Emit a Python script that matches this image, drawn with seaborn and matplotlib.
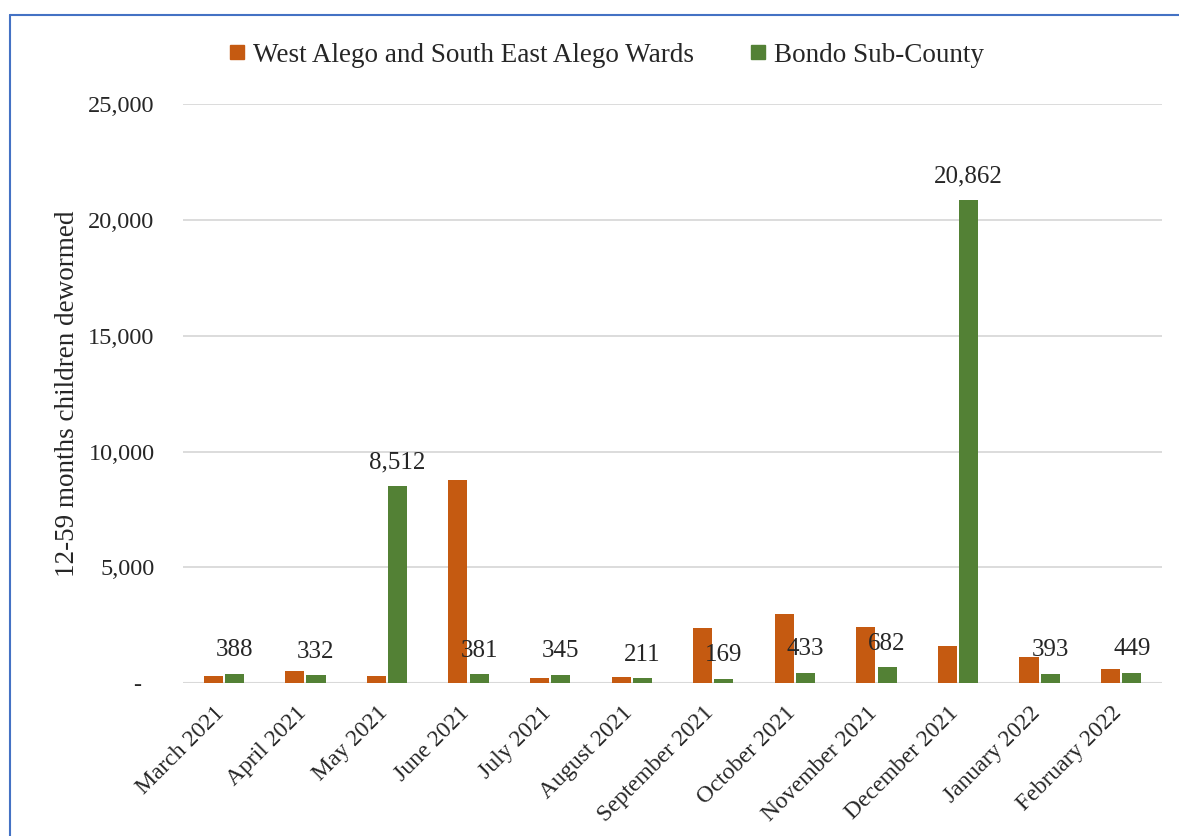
import pandas as pd
import matplotlib.pyplot as plt
import matplotlib.transforms as mtransforms
import seaborn as sns
from matplotlib.lines import Line2D

# data
months = ['March 2021', 'April 2021', 'May 2021', 'June 2021', 'July 2021', 'August 2021',
          'September 2021', 'October 2021', 'November 2021', 'December 2021',
          'January 2022', 'February 2022']
alego = [310, 500, 290, 8750, 210, 250, 2370, 2960, 2400, 1600, 1120, 620]
bondo = [388, 332, 8512, 381, 345, 211, 169, 433, 682, 20862, 393, 449]
series_names = ['West Alego and South East Alego Wards', 'Bondo Sub-County']
colors = ['#C55A11', '#538135']

df = pd.DataFrame({
    'month': months * 2,
    'value': alego + bondo,
    'series': [series_names[0]] * len(months) + [series_names[1]] * len(months),
})

sns.set_style('white')
plt.rcParams['font.family'] = ['Liberation Serif', 'DejaVu Serif']
plt.rcParams['font.size'] = 17

fig = plt.figure(figsize=(11.79, 8.36), dpi=100)
ax = fig.add_axes([0.1552, 0.183, 0.9856 - 0.1552, 0.8752 - 0.183])

sns.barplot(data=df, x='month', y='value', hue='series', palette=colors,
            saturation=1, width=0.52, gap=0.1, linewidth=0, ax=ax)

ax.set_ylim(0, 25000)
ax.set_yticks(range(0, 25001, 5000))
ax.set_yticklabels(['-  ' if v == 0 else f'{v:,}' for v in range(0, 25001, 5000)])
ax.grid(axis='y', color='#D9D9D9', linewidth=1.3)
ax.set_axisbelow(True)
for s in ax.spines.values():
    s.set_visible(False)
ax.axhline(0, color='#D9D9D9', linewidth=1.5, zorder=0.5)
ax.tick_params(axis='y', length=0, pad=20.5, labelsize=17.5)
ax.tick_params(axis='x', length=0, pad=14, labelsize=17)
shift = mtransforms.ScaledTranslation(5 / 100, 0, fig.dpi_scale_trans)
for lab in ax.get_xticklabels():
    lab.set_rotation(45)
    lab.set_ha('right')
    lab.set_transform(lab.get_transform() + shift)
ax.set_xlabel('')
ax.set_ylabel('12-59 months children dewormed', fontsize=19.5, labelpad=6)

# labels on the Bondo bars
for bar, v in zip(ax.containers[1], bondo):
    ax.annotate(f'{v:,}', (bar.get_x() + bar.get_width() / 2, bar.get_height()),
                xytext=(0, 17), textcoords='offset points', ha='center', va='center',
                fontsize=18)

# legend on top
ax.get_legend().remove()
handles = [Line2D([], [], marker='s', linestyle='none', markersize=10,
                  markerfacecolor=c, markeredgecolor=c) for c in colors]
fig.legend(handles, series_names, loc='center', bbox_to_anchor=(605 / 1179, 1 - 55 / 836),
           ncol=2, frameon=False, fontsize=19.5, handletextpad=0.2, columnspacing=1.95,
           handlelength=0.8)

# blue chart-area border
W, H = 1179, 836
fig.add_artist(Line2D([10 / W, 1], [1 - 15 / H, 1 - 15 / H], color='#4472C4', linewidth=1.5))
fig.add_artist(Line2D([10 / W, 10 / W], [0, 1 - 15 / H], color='#4472C4', linewidth=1.5))

fig.savefig('out.png', dpi=100)
